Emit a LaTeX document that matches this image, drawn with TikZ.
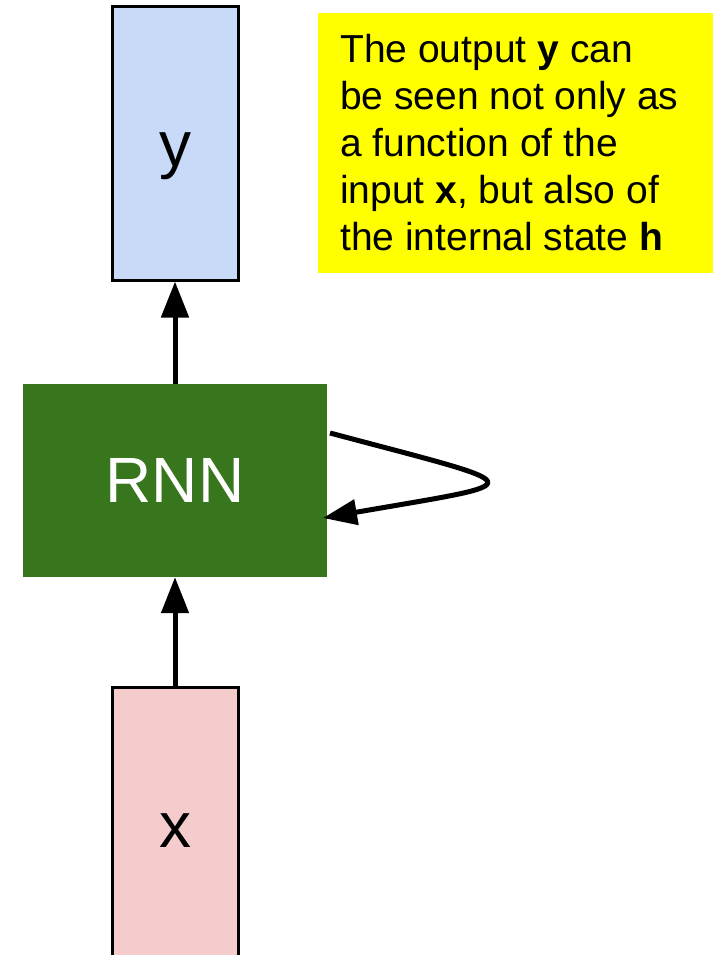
\documentclass[tikz,border=0pt]{standalone}
\usepackage{fontspec}
\setmainfont{Liberation Sans}
\usetikzlibrary{arrows.meta}
\definecolor{ybox}{HTML}{C9DAF8}
\definecolor{xbox}{HTML}{F4CCCC}
\definecolor{rnngreen}{HTML}{38761D}
\definecolor{note}{HTML}{FFFF00}
\tikzset{
  vecbox/.style={draw=black, line width=3pt, minimum width=126pt, inner sep=0pt},
  bigletter/.style={font=\fontsize{64}{70}\selectfont, anchor=base, inner sep=0pt},
  flow/.style={line width=5pt, -{Triangle[length=36pt,width=27pt]}},
}
\begin{document}
\begin{tikzpicture}[x=1pt,y=-1pt]
\useasboundingbox (0,0) rectangle (713,955);
% output box
\node[vecbox, fill=ybox, minimum height=273pt] (ybox) at (175,143.5) {};
\node[bigletter] (ylabel) at (175,166) {y};
% note
\fill[note] (318,13) rectangle (713,273);
\node[anchor=base west, inner sep=0pt, align=left,
      font=\fontsize{39}{47}\selectfont] (notetext) at (340,250)
  {The output \textbf{y} can\\be seen not only as\\a function of the\\input \textbf{x}, but also of\\the internal state \textbf{h}};
% RNN
\node[fill=rnngreen, minimum width=304pt, minimum height=193pt, inner sep=0pt,
      text=white, font=\fontsize{64}{70}\selectfont] (rnn) at (175,480.5) {RNN};
% input box
\node[vecbox, fill=xbox, minimum height=280pt] (xbox) at (175,827) {};
\node[bigletter] (xlabel) at (175,847) {x};
% connectors
\draw[flow] (rnn.north) -- (ybox.south);
\draw[flow] (xbox.north) -- (rnn.south);
\coordinate (loopstart) at (330,433);
\coordinate (loopend) at (323,518);
\draw[line width=5pt, -{Triangle[length=34pt,width=25pt]}]
  (loopstart) .. controls (536,488) and (536,481) .. (loopend);
\end{tikzpicture}
\end{document}
